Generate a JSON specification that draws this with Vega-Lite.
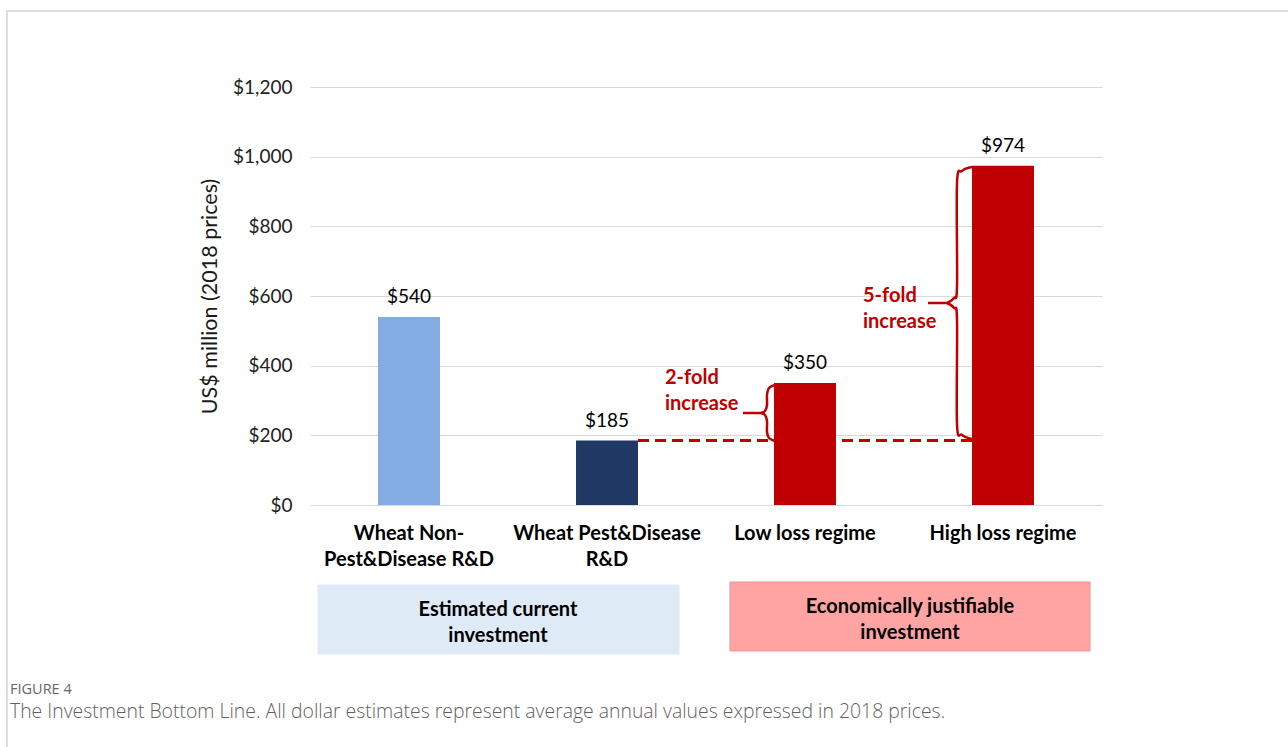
{
  "$schema": "https://vega.github.io/schema/vega-lite/v6.json",
  "width": 792,
  "height": 418,
  "autosize": {"type": "none"},
  "padding": {"left": 310, "top": 87, "right": 186, "bottom": 242},
  "background": "white",
  "config": {
    "view": {"stroke": null},
    "font": "Lato",
    "axisY": {
      "titleFont": "Lato", "titleFontSize": 21.5, "titleFontWeight": "normal", "titleColor": "#1a1a1a", "titlePadding": 11,
      "labelFont": "Lato", "labelFontSize": 19, "labelColor": "#222222", "labelPadding": 18,
      "domain": false, "ticks": false, "tickSize": 0,
      "grid": true, "gridColor": "#d9d9d9", "gridWidth": 1
    }
  },
  "datasets": {
    "bars": [
      {"category": "Wheat Non-Pest&Disease R&D", "value": 540, "style": "hatch"},
      {"category": "Wheat Pest&Disease R&D", "value": 185, "style": "navy"},
      {"category": "Low loss regime", "value": 350, "style": "red"},
      {"category": "High loss regime", "value": 974, "style": "red"}
    ],
    "frame": [{"x1": -1.5303, "x2": 5.2, "y1": 1418.2, "y2": -800}],
    "captions": [
      {"x": -1.5152, "y": -542.5, "kind": "label", "text": "FIGURE 4"},
      {"x": -1.5152, "y": -611.5, "kind": "caption", "text": "The Investment Bottom Line. All dollar estimates represent average annual values expressed in 2018 prices."}
    ],
    "boxes": [
      {"x1": 0.0404, "x2": 1.8636, "y1": -229.7, "y2": -427.8, "kind": "current", "text": "Estimated current\ninvestment", "tx": 0.9495, "ty": -301.4},
      {"x1": 2.1212, "x2": 3.9394, "y1": -221.1, "y2": -419.1, "kind": "justifiable", "text": "Economically justifiable\ninvestment", "tx": 3.0303, "ty": -291.4}
    ],
    "braces": [
      {"seg": "b2t", "o": 1, "x": 2.3485, "y": 344.5},
      {"seg": "b2t", "o": 2, "x": 2.3182, "y": 335.9},
      {"seg": "b2t", "o": 3, "x": 2.3081, "y": 315.8},
      {"seg": "b2t", "o": 4, "x": 2.3081, "y": 287.1},
      {"seg": "b2t", "o": 5, "x": 2.2980, "y": 269.9},
      {"seg": "b2t", "o": 6, "x": 2.2778, "y": 264.1},
      {"seg": "b2b", "o": 1, "x": 2.2778, "y": 264.1},
      {"seg": "b2b", "o": 2, "x": 2.2980, "y": 258.4},
      {"seg": "b2b", "o": 3, "x": 2.3081, "y": 241.1},
      {"seg": "b2b", "o": 4, "x": 2.3081, "y": 209.6},
      {"seg": "b2b", "o": 5, "x": 2.3182, "y": 192.3},
      {"seg": "b2b", "o": 6, "x": 2.3485, "y": 183.7},
      {"seg": "b5t", "o": 1, "x": 3.3434, "y": 970.3},
      {"seg": "b5t", "o": 2, "x": 3.2929, "y": 958.9},
      {"seg": "b5t", "o": 3, "x": 3.2677, "y": 924.4},
      {"seg": "b5t", "o": 4, "x": 3.2677, "y": 628.7},
      {"seg": "b5t", "o": 5, "x": 3.2525, "y": 594.3},
      {"seg": "b5t", "o": 6, "x": 3.2172, "y": 579.9},
      {"seg": "b5b", "o": 1, "x": 3.2172, "y": 579.9},
      {"seg": "b5b", "o": 2, "x": 3.2525, "y": 565.6},
      {"seg": "b5b", "o": 3, "x": 3.2677, "y": 531.1},
      {"seg": "b5b", "o": 4, "x": 3.2677, "y": 232.5},
      {"seg": "b5b", "o": 5, "x": 3.2929, "y": 201.0},
      {"seg": "b5b", "o": 6, "x": 3.3434, "y": 189.5}
    ],
    "rules": [
      {"x1": 1.6566, "x2": 3.3434, "y": 185, "kind": "dash"},
      {"x1": 2.1869, "x2": 2.2778, "y": 264.1, "kind": "tail"},
      {"x1": 3.1212, "x2": 3.2172, "y": 579.9, "kind": "tail"}
    ],
    "notes": [
      {"x": 1.7929, "y": 364.6, "text": "2-fold\nincrease"},
      {"x": 2.7929, "y": 600.0, "text": "5-fold\nincrease"}
    ]
  },
  "resolve": {"scale": {"x": "independent"}},
  "layer": [
    {
      "data": {"name": "frame"},
      "mark": {"type": "rect", "fillOpacity": 0, "stroke": "#d4d4d4", "strokeWidth": 1.5},
      "encoding": {
        "x": {"field": "x1", "type": "quantitative", "scale": {"domain": [0, 4], "nice": false, "zero": false}, "axis": null},
        "x2": {"field": "x2"},
        "y": {"field": "y1", "type": "quantitative", "scale": {"domain": [0, 1200], "nice": false}},
        "y2": {"field": "y2"}
      }
    },
    {
      "data": {"name": "captions"},
      "transform": [{"filter": "datum.kind == 'label'"}],
      "mark": {"type": "text", "align": "left", "baseline": "alphabetic", "font": "Open Sans", "fontSize": 14.5, "color": "#666666"},
      "encoding": {
        "x": {"field": "x", "type": "quantitative", "scale": {"domain": [0, 4], "nice": false, "zero": false}, "axis": null},
        "y": {"field": "y", "type": "quantitative", "scale": {"domain": [0, 1200], "nice": false}},
        "text": {"field": "text"}
      }
    },
    {
      "data": {"name": "captions"},
      "transform": [{"filter": "datum.kind == 'caption'"}],
      "mark": {"type": "text", "align": "left", "baseline": "alphabetic", "font": "Open Sans", "fontSize": 19.4, "fontWeight": 300, "color": "#5f5f5f"},
      "encoding": {
        "x": {"field": "x", "type": "quantitative", "scale": {"domain": [0, 4], "nice": false, "zero": false}, "axis": null},
        "y": {"field": "y", "type": "quantitative", "scale": {"domain": [0, 1200], "nice": false}},
        "text": {"field": "text"}
      }
    },
    {
      "data": {"name": "boxes"},
      "mark": {"type": "rect", "strokeWidth": 1},
      "encoding": {
        "x": {"field": "x1", "type": "quantitative", "scale": {"domain": [0, 4], "nice": false, "zero": false}, "axis": null},
        "x2": {"field": "x2"},
        "y": {"field": "y1", "type": "quantitative", "scale": {"domain": [0, 1200], "nice": false}},
        "y2": {"field": "y2"},
        "fill": {"field": "kind", "type": "nominal", "scale": {"domain": ["current", "justifiable"], "range": ["#DEEAF6", "#FFA3A3"]}, "legend": null},
        "stroke": {"field": "kind", "type": "nominal", "scale": {"domain": ["current", "justifiable"], "range": ["#DEEAF6", "#F29494"]}, "legend": null}
      }
    },
    {
      "data": {"name": "boxes"},
      "mark": {"type": "text", "lineBreak": "\n", "lineHeight": 26, "baseline": "middle", "align": "center", "font": "Lato", "fontWeight": "bold", "fontSize": 20, "color": "#000000"},
      "encoding": {
        "x": {"field": "tx", "type": "quantitative", "scale": {"domain": [0, 4], "nice": false, "zero": false}, "axis": null},
        "y": {"field": "ty", "type": "quantitative", "scale": {"domain": [0, 1200], "nice": false}},
        "text": {"field": "text"}
      }
    },
    {
      "data": {"name": "rules"},
      "transform": [{"filter": "datum.kind == 'dash'"}],
      "mark": {"type": "rule", "color": "#C00000", "strokeWidth": 3, "strokeDash": [11, 6]},
      "encoding": {
        "x": {"field": "x1", "type": "quantitative", "scale": {"domain": [0, 4], "nice": false, "zero": false}, "axis": null},
        "x2": {"field": "x2"},
        "y": {"field": "y", "type": "quantitative", "scale": {"domain": [0, 1200], "nice": false}}
      }
    },
    {
      "data": {"name": "bars"},
      "mark": {"type": "bar"},
      "encoding": {
        "x": {
          "field": "category", "type": "nominal", "sort": null,
          "scale": {"paddingInner": 0.687, "paddingOuter": 0.3435},
          "axis": {
            "title": null, "domain": false, "ticks": false, "tickSize": 0, "labelAngle": 0,
            "labelFont": "Lato", "labelFontWeight": "bold", "labelFontSize": 20, "labelColor": "#000000",
            "labelPadding": 18, "labelBaseline": "top", "labelLineHeight": 26, "labelLimit": 400,
            "labelExpr": "datum.value == 'Wheat Non-Pest&Disease R&D' ? ['Wheat Non-', 'Pest&Disease R&D'] : datum.value == 'Wheat Pest&Disease R&D' ? ['Wheat Pest&Disease', 'R&D'] : datum.label"
          }
        },
        "y": {
          "field": "value", "type": "quantitative",
          "scale": {"domain": [0, 1200], "nice": false},
          "axis": {
            "title": "US$ million (2018 prices)",
            "values": [0, 200, 400, 600, 800, 1000, 1200],
            "labelExpr": "'$' + format(datum.value, ',')",
            "grid": true
          }
        },
        "color": {"field": "style", "type": "nominal", "scale": {"domain": ["hatch", "navy", "red"], "range": ["#82ACE2", "#203864", "#C00000"]}, "legend": null}
      }
    },
    {
      "data": {"name": "bars"},
      "mark": {"type": "text", "baseline": "alphabetic", "dy": -14, "font": "Lato", "fontSize": 19, "color": "#000000"},
      "encoding": {
        "x": {"field": "category", "type": "nominal", "sort": null, "scale": {"paddingInner": 0.687, "paddingOuter": 0.3435}, "axis": null},
        "y": {"field": "value", "type": "quantitative", "scale": {"domain": [0, 1200], "nice": false}},
        "text": {"field": "value", "format": "$,.0f"}
      }
    },
    {
      "data": {"name": "braces"},
      "mark": {"type": "line", "interpolate": "cardinal", "color": "#C00000", "strokeWidth": 2.5},
      "encoding": {
        "x": {"field": "x", "type": "quantitative", "scale": {"domain": [0, 4], "nice": false, "zero": false}, "axis": null},
        "y": {"field": "y", "type": "quantitative", "scale": {"domain": [0, 1200], "nice": false}},
        "detail": {"field": "seg", "type": "nominal"},
        "order": {"field": "o", "type": "quantitative"}
      }
    },
    {
      "data": {"name": "rules"},
      "transform": [{"filter": "datum.kind == 'tail'"}],
      "mark": {"type": "rule", "color": "#C00000", "strokeWidth": 2.5},
      "encoding": {
        "x": {"field": "x1", "type": "quantitative", "scale": {"domain": [0, 4], "nice": false, "zero": false}, "axis": null},
        "x2": {"field": "x2"},
        "y": {"field": "y", "type": "quantitative", "scale": {"domain": [0, 1200], "nice": false}}
      }
    },
    {
      "data": {"name": "notes"},
      "mark": {"type": "text", "lineBreak": "\n", "lineHeight": 26, "baseline": "middle", "align": "left", "font": "Lato", "fontWeight": "bold", "fontSize": 20, "color": "#C00000"},
      "encoding": {
        "x": {"field": "x", "type": "quantitative", "scale": {"domain": [0, 4], "nice": false, "zero": false}, "axis": null},
        "y": {"field": "y", "type": "quantitative", "scale": {"domain": [0, 1200], "nice": false}},
        "text": {"field": "text"}
      }
    }
  ]
}
